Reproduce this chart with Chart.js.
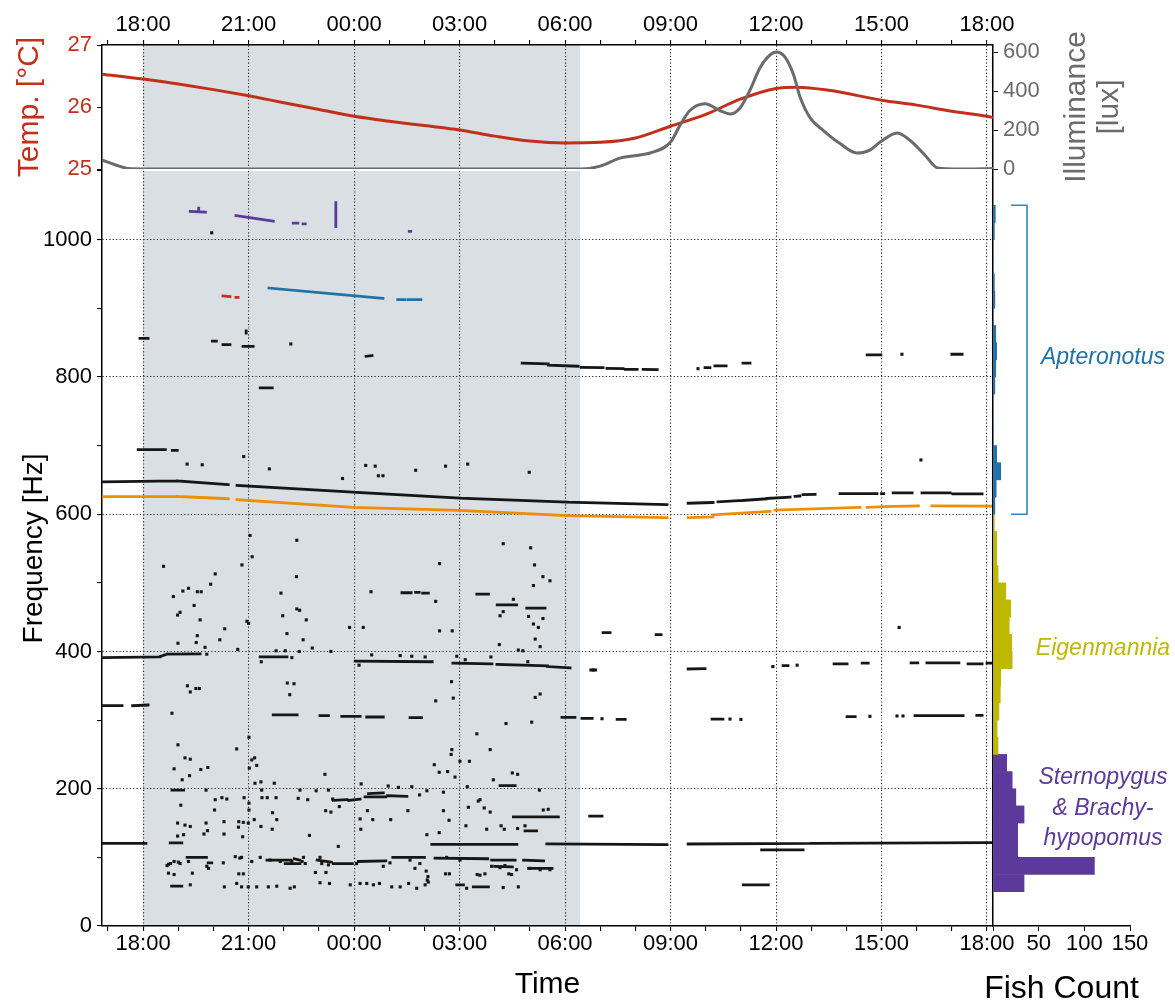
<!DOCTYPE html>
<html>
<head>
<meta charset="utf-8">
<title>Electric fish EOD frequencies over 24 h</title>
<script src="https://cdn.jsdelivr.net/npm/chart.js@4.4.1/dist/chart.umd.min.js"></script>
<style>
  html, body { margin: 0; background: #fff; }
  #fig { position: relative; width: 1175px; height: 1003px; }
  #fig canvas { position: absolute; left: 0; top: 0; }
</style>
</head>
<body>
<div id="fig">
  <canvas id="env" width="1175" height="1003"></canvas>
  <canvas id="freq" width="1175" height="1003"></canvas>
  <canvas id="hist" width="1175" height="1003"></canvas>
</div>
<script>
Chart.defaults.font.family = '"Liberation Sans", Arial, Helvetica, sans-serif';
Chart.defaults.color = '#000';
Chart.defaults.animation = false;
Chart.defaults.events = [];
Chart.defaults.plugins.legend.display = false;
Chart.defaults.plugins.tooltip.enabled = false;

// time is in hours after 18:00 of the first day
const T_MIN = -1.17, T_MAX = 24.17;
const NIGHT = [0, 12.43];

// water temperature
const tempHours = [-1.17, 0, 1, 2, 3, 4, 5, 6, 7, 8, 9, 10, 11, 12, 13, 14, 15, 16, 17, 18, 18.6, 19.5, 21, 22, 23, 24, 24.17];
const tempC = [26.53, 26.45, 26.37, 26.28, 26.18, 26.07, 25.96, 25.85, 25.77, 25.70, 25.63, 25.53, 25.45, 25.42, 25.43, 25.50, 25.69, 25.88, 26.13, 26.30, 26.32, 26.27, 26.11, 26.03, 25.93, 25.85, 25.83];

// illuminance
const luxHours = [-1.17, -0.8, -0.4, 0, 12.45, 13.0, 13.56, 14.13, 14.42, 15.0, 15.27, 15.55, 15.98, 16.4, 16.69, 16.97, 17.26, 17.54, 17.83, 18.0, 18.25, 18.5, 18.68, 18.97, 19.33, 19.8, 20.3, 20.67, 20.96, 21.44, 21.8, 22.23, 22.6, 23.2, 24.17];
const luxValues = [46, 22, 2, 0, 0, 15, 56, 72, 82, 138, 225, 300, 335, 300, 282, 312, 405, 518, 585, 600, 575, 482, 370, 262, 200, 133, 82, 97, 138, 185, 149, 72, 5, 0, 3];
const luxTicks = [0, 200, 400, 600];

// frequency tracks: [start h, start Hz, end h, end Hz]
const blackSegs = [
  // ~640 Hz
  [-1.17, 647, 0.97, 648.5], [0.97, 648.5, 2.42, 643],
  [2.67, 642, 5.97, 632], [5.97, 632, 9.01, 623.5], [9.01, 623.5, 12.06, 617.5], [12.06, 617.5, 14.9, 614],
  [15.5, 616, 16.21, 617], [16.35, 618, 17.06, 620], [17.06, 620, 17.74, 622.5], [17.74, 623, 18.4, 625],
  [18.54, 626, 18.68, 626.5], [18.77, 628.5, 19.11, 629], [19.82, 630, 20.87, 630], [21.0, 630, 21.06, 630],
  [21.33, 631, 21.87, 631], [22.15, 631, 22.95, 631], [23.03, 629.5, 23.86, 629.5],
  // ~815 Hz
  [10.78, 820, 11.52, 819], [11.52, 817, 12.37, 815.5], [12.46, 814, 13.08, 813.5], [13.19, 812.5, 13.65, 812],
  [13.71, 811, 14.05, 811], [14.22, 811, 14.62, 810.5], [15.98, 813.5, 16.12, 813.5], [16.26, 816, 16.58, 816],
  [17.06, 820, 17.26, 820], [20.59, 832, 20.98, 832], [23.0, 833, 23.29, 833],
  // short pieces 650-870 Hz
  [-0.09, 856, 0.14, 856], [1.97, 852, 2.08, 852], [2.27, 847, 2.47, 847], [2.84, 844.5, 3.13, 844.5],
  [2.93, 864, 2.93, 867], [6.34, 830, 6.51, 831], [3.33, 784, 3.67, 784],
  [-0.14, 694, 0.63, 694], [0.83, 693, 0.97, 693],
  // ~390 Hz
  [-1.17, 391, 0.48, 392], [0.5, 393, 0.68, 396], [0.68, 396, 1.62, 396.5], [3.33, 392, 4.09, 392],
  [6.03, 386, 8.22, 385], [8.81, 383, 9.92, 382], [10.06, 381, 11.5, 379], [11.5, 378, 12.14, 376],
  [12.73, 373, 12.87, 373], [15.5, 374.5, 15.98, 375], [18.2, 379.5, 18.34, 379.5], [19.65, 382, 20.02, 382],
  [20.45, 383, 20.62, 383], [21.84, 383.5, 22.03, 383.5], [22.29, 383.5, 23.2, 383.5], [23.46, 382, 23.86, 382],
  [24.0, 383, 24.17, 383],
  // 420-490 Hz pieces
  [7.36, 485.5, 7.62, 485.5], [7.75, 486, 7.85, 486], [7.95, 485, 8.11, 485], [9.49, 483.5, 9.82, 483.5],
  [10.07, 468, 10.62, 468], [10.91, 463, 11.43, 463], [13.08, 427.5, 13.28, 427.5], [14.59, 424.5, 14.73, 424.5],
  // ~310 Hz
  [-1.17, 321, -0.6, 321], [-0.3, 321, 0.14, 322], [3.7, 307.5, 4.38, 307.5], [5.03, 306.5, 5.27, 306.5],
  [5.65, 305.5, 6.17, 305.5], [6.36, 304.5, 6.83, 304.5], [7.59, 303.5, 7.92, 303.5], [11.91, 304, 12.28, 304],
  [12.48, 302.5, 12.77, 302.5], [13.48, 301, 13.71, 301], [16.18, 301.5, 16.49, 301.5], [20.02, 305, 20.25, 305],
  [21.95, 306.5, 23.32, 306.5], [23.71, 307, 23.86, 307],
  // 130-210 Hz pieces
  [0.82, 198, 1.15, 198], [5.41, 183, 5.8, 184], [5.85, 183, 6.17, 185], [6.31, 188, 6.9, 188], [6.95, 190, 7.5, 189],
  [6.41, 193, 6.83, 194], [10.15, 204.5, 10.58, 204.5], [10.53, 159, 11.81, 159], [10.86, 138.5, 11.19, 138.5],
  [12.7, 160, 13.05, 160],
  // ~120 Hz
  [-1.17, 120.5, 0.08, 120.5], [0.77, 121, 1.1, 121], [8.21, 119, 10.63, 119], [11.48, 119.5, 14.9, 118.5],
  [15.5, 119.5, 19.0, 120.3], [19.0, 120.3, 24.17, 121.5], [17.59, 110.8, 18.77, 110.8], [17.07, 60, 17.78, 60],
  // 80-100 Hz
  [1.25, 100, 1.8, 100], [1.85, 92, 1.95, 92], [3.52, 96, 4.2, 96], [4.3, 98, 4.45, 96], [4.95, 96, 5.35, 93],
  [5.41, 91, 5.95, 91], [6.12, 94, 6.9, 95], [7.1, 100, 8.0, 100], [8.3, 99, 9.8, 98], [9.91, 96, 10.58, 96],
  [10.82, 96, 11.39, 95], [10.0, 87, 10.5, 86], [10.96, 84, 11.63, 84], [4.04, 91, 4.46, 91],
  // ~58 Hz
  [0.81, 58, 1.1, 58], [8.92, 60, 9.11, 60], [9.39, 57, 9.82, 57]
];
const orangeSegs = [
  [-1.17, 625.5, 0.97, 626], [0.97, 626, 2.42, 622.5],
  [2.67, 621, 5.97, 610], [5.97, 610, 9.01, 605.5], [9.01, 605.5, 12.06, 598], [12.06, 598, 14.9, 595],
  [15.5, 595, 16.21, 596], [16.21, 599, 17.83, 604], [17.97, 606, 20.39, 610], [20.59, 610, 20.96, 610.5],
  [21.05, 611, 22.05, 612], [22.43, 612, 24.17, 611.7]
];
const blueSegs = [[3.58, 929.5, 6.82, 914.5], [7.24, 912.5, 7.44, 912.5], [7.53, 912.5, 7.9, 912.5]];
const purpleSegs = [
  [1.34, 1041, 1.77, 1040], [1.58, 1043, 1.58, 1046], [2.64, 1035, 3.7, 1027],
  [4.27, 1024, 4.4, 1024], [4.55, 1023, 4.61, 1023], [5.48, 1054, 5.48, 1019], [7.57, 1012, 7.61, 1012]
];
const redSegs = [[2.27, 918, 2.47, 917], [2.64, 916, 2.7, 916]];

// isolated detections: [h, Hz]
const blackDots = [
  [1.95, 1010], [4.2, 848], [1.25, 673], [1.68, 672], [15.78, 812], [21.58, 833], [22.12, 679], [10.98, 661],
  [17.91, 378], [18.6, 380], [13.05, 302], [16.69, 301.5], [17.0, 301], [20.67, 305.5], [21.44, 306], [21.61, 306],
  [21.5, 435], [12.8, 373],
  [0.58, 524], [0.86, 480], [0.98, 453], [1.05, 457], [0.99, 412], [1.13, 488], [1.29, 492], [1.45, 467],
  [1.54, 487], [1.65, 487], [1.62, 446], [1.54, 423], [1.51, 413], [1.76, 406], [1.81, 396], [1.92, 498],
  [2.05, 513], [2.18, 417], [2.32, 433], [2.81, 526], [2.86, 684], [2.69, 403], [3.04, 569], [3.1, 538],
  [2.95, 444], [3.0, 441], [1.26, 350], [1.34, 341], [1.5, 346], [1.6, 346], [0.82, 310], [3.59, 666],
  [3.92, 485], [3.97, 452], [4.09, 426], [4.37, 562], [4.36, 509], [4.37, 462], [4.45, 460], [4.64, 446],
  [4.55, 417], [4.81, 405], [3.78, 401], [4.04, 401], [4.44, 400], [5.34, 400], [3.36, 385], [4.23, 391],
  [4.1, 354], [4.29, 353], [4.17, 337], [5.67, 652], [5.87, 435], [6.26, 435], [6.33, 671], [6.6, 670],
  [6.69, 656], [6.82, 656], [6.48, 487], [6.14, 380], [6.5, 395], [7.31, 394], [7.64, 393], [8.02, 392],
  [7.75, 664], [8.32, 473], [8.43, 528], [8.43, 430], [8.79, 430], [8.6, 670], [9.23, 673], [8.32, 328],
  [8.77, 356], [8.82, 332], [8.92, 393], [9.16, 388], [9.89, 392], [10.15, 452], [10.24, 458], [10.24, 557],
  [10.53, 476], [10.13, 410], [10.67, 402], [10.8, 401], [10.94, 385], [11.02, 551], [11.13, 526], [11.1, 496],
  [11.37, 509], [11.57, 503], [10.96, 451], [11.1, 440], [11.24, 435], [11.37, 448], [11.15, 418], [11.29, 407],
  [11.15, 333], [11.29, 338],
  [0.99, 264], [0.88, 229], [1.11, 213], [1.19, 245], [1.34, 243], [1.32, 219], [1.64, 228], [1.84, 231],
  [1.07, 176], [1.79, 198], [0.98, 150], [1.19, 147], [1.34, 145], [0.98, 131], [1.15, 133], [1.79, 150],
  [1.83, 139], [1.73, 134], [2.03, 169], [2.05, 184], [2.24, 187], [2.38, 185], [2.3, 152], [2.3, 134],
  [2.66, 258], [2.87, 187], [2.72, 152], [2.85, 151], [2.99, 150], [2.71, 144], [2.83, 130], [3.01, 275],
  [3.02, 230], [3.09, 242], [3.17, 245], [3.23, 234], [3.01, 179], [3.01, 169], [3.18, 208], [3.35, 210],
  [3.37, 198], [3.16, 155], [3.35, 145], [3.38, 187], [3.53, 187], [3.78, 187], [3.68, 165], [3.8, 155],
  [3.67, 141], [3.73, 208], [4.46, 198], [4.68, 184], [4.92, 197], [4.41, 186], [5.17, 221], [5.19, 168],
  [5.34, 166], [5.27, 198], [5.39, 185], [5.58, 174], [4.73, 132], [5.55, 116], [6.2, 207], [6.17, 156],
  [6.19, 141], [6.38, 168], [6.53, 155], [6.97, 204], [7.26, 202], [7.64, 203], [7.04, 155], [7.53, 168],
  [7.86, 191], [8.07, 197], [8.28, 235], [8.42, 224], [8.66, 225], [8.54, 195], [8.54, 168], [8.42, 136],
  [8.7, 154], [8.78, 257], [8.76, 250], [8.87, 217], [9.01, 240], [9.28, 240], [9.22, 203], [9.25, 173],
  [9.18, 146], [9.49, 280], [9.53, 182], [9.58, 184], [9.7, 172], [9.87, 166], [9.77, 141], [9.87, 257],
  [9.96, 213], [10.5, 223], [10.65, 221], [10.32, 295], [11.05, 297], [10.18, 146], [10.27, 141], [10.65, 142],
  [10.86, 146], [11.38, 169], [11.52, 170], [11.27, 198], [8.07, 133],
  [0.72, 90], [0.88, 94], [1.05, 91], [1.29, 94], [1.81, 87], [1.86, 84], [2.28, 92], [2.8, 100], [2.85, 76],
  [3.09, 94], [3.33, 100], [3.61, 96], [3.9, 94], [4.23, 94], [4.56, 100], [4.61, 91], [5.03, 100], [5.08, 91],
  [5.27, 89], [6.07, 91], [6.83, 87], [7.02, 92], [7.59, 96], [7.73, 84], [7.87, 91], [8.63, 100], [8.71, 76],
  [9.01, 96], [9.58, 74], [9.72, 76], [9.91, 87], [10.15, 85], [10.29, 88], [10.48, 75], [10.62, 82], [11.0, 84],
  [11.29, 82], [11.57, 82], [0.68, 88], [0.78, 91], [1.0, 93], [2.62, 101], [2.75, 99], [4.52, 94],
  [0.72, 77], [0.88, 75], [1.4, 77], [2.72, 76], [4.9, 78], [5.2, 78], [8.6, 76], [9.5, 75], [10.4, 76],
  [8.05, 80], [8.1, 72], [8.08, 67],
  [1.34, 60], [2.31, 57], [2.66, 62], [2.8, 57], [2.99, 57], [3.23, 57], [3.56, 57], [3.8, 58], [4.18, 55],
  [4.3, 57], [5.03, 63], [5.3, 62], [5.89, 60], [6.17, 62], [6.36, 62], [6.55, 60], [6.72, 62], [7.07, 57],
  [7.31, 57], [7.55, 62], [7.78, 55], [8.02, 60], [8.11, 64], [9.2, 55], [10.24, 56], [10.67, 57]
];

// fish count histogram, 25 Hz bins, listed from the lowest bin upward
const HIST_BIN = 25;
const sternoFrom = 50, sternoCounts = [34, 111, 27, 27, 34, 25, 21, 15];
const eigenFrom = 250, eigenCounts = [5.5, 4.5, 6.5, 8, 8.4, 21, 20.5, 17.8, 19.4, 14, 5.6, 4, 4, 1.5];
const aptFrom = 600, aptCounts = [2, 3.5, 8.5, 4, 0, 0, 0, 2, 3, 4, 3, 0, 2, 1.5, 0, 0, 1.5, 2.5];

const RED = '#c22f1b', GRAY = '#6b6b6b', BLACK = '#161616', ORANGE = '#f18d00';
const BLUE = '#2172a7', PURPLE = '#5c3a9b', TRACK_RED = '#c7301c', OLIVE = '#beb800', SHADE = '#d9dfe3';
const DOTTED = [1.2, 2.2];
const GRID = '#222';
const FONT = '"Liberation Sans", Arial, Helvetica, sans-serif';

const clock = v => String(((Math.round(v) + 18) % 24 + 24) % 24).padStart(2, '0') + ':00';
const isMajor = v => Math.abs(v % 3) < 1e-6;

function timeAxis(position, height, pad) {
  return {
    type: 'linear', position, min: T_MIN, max: T_MAX,
    afterFit: s => { s.height = height; },
    ticks: {
      stepSize: 1, autoSkip: false, includeBounds: false, maxRotation: 0,
      font: { size: 22 }, padding: pad, callback: v => isMajor(v) ? clock(v) : ''
    },
    grid: {
      color: c => c.tick && isMajor(c.tick.value) ? GRID : 'rgba(0,0,0,0)',
      tickColor: '#000', tickLength: 5, lineWidth: 1.1
    },
    border: { color: '#000', width: 1.5, dash: DOTTED }
  };
}

const nightShade = {
  id: 'nightShade',
  beforeDraw(chart) {
    const { ctx, chartArea: a, scales: { x } } = chart;
    const x0 = x.getPixelForValue(NIGHT[0]), x1 = x.getPixelForValue(NIGHT[1]);
    ctx.save();
    ctx.fillStyle = SHADE;
    ctx.fillRect(x0, a.top, x1 - x0, a.bottom - a.top);
    ctx.restore();
  }
};

// right axis title reads bottom-to-top, like the left one
const luxTitle = {
  id: 'luxTitle',
  afterDraw(chart) {
    const { ctx, chartArea: a } = chart;
    const cy = (a.top + a.bottom) / 2;
    ctx.save();
    ctx.fillStyle = GRAY;
    ctx.font = '30px ' + FONT;
    ctx.textAlign = 'center';
    ctx.textBaseline = 'middle';
    [['Illuminance', 84], ['[lux]', 117]].forEach(([s, dx]) => {
      ctx.save();
      ctx.translate(a.right + dx, cy);
      ctx.rotate(-Math.PI / 2);
      ctx.fillText(s, 0, 0);
      ctx.restore();
    });
    ctx.restore();
  }
};

// genus labels, Apteronotus bracket and the axis title (wider than the narrow axis)
const histNotes = {
  id: 'histNotes',
  afterDraw(chart) {
    const { ctx, chartArea: a, scales: { y } } = chart;
    const yTop = y.getPixelForValue(1050), yBot = y.getPixelForValue(600);
    const bx = a.left + 34;
    ctx.save();
    ctx.strokeStyle = '#3b84b8';
    ctx.lineWidth = 1.6;
    ctx.beginPath();
    ctx.moveTo(bx - 16, yTop); ctx.lineTo(bx, yTop); ctx.lineTo(bx, yBot); ctx.lineTo(bx - 16, yBot);
    ctx.stroke();
    ctx.font = 'italic 23px ' + FONT;
    ctx.textAlign = 'center';
    ctx.textBaseline = 'middle';
    const cx = a.left + 110;
    ctx.fillStyle = BLUE;
    ctx.fillText('Apteronotus', cx, y.getPixelForValue(828));
    ctx.fillStyle = OLIVE;
    ctx.fillText('Eigenmannia', cx, y.getPixelForValue(404));
    ctx.fillStyle = PURPLE;
    ['Sternopygus', '& Brachy-', 'hypopomus'].forEach((s, i) => ctx.fillText(s, cx, y.getPixelForValue(216 - 44.5 * i)));
    ctx.font = '32px ' + FONT;
    ctx.fillStyle = '#000';
    ctx.textBaseline = 'alphabetic';
    ctx.fillText('Fish Count', (a.left + a.right) / 2, 998);
    ctx.restore();
  }
};

// ---- temperature / illuminance panel ----
new Chart('env', {
  type: 'scatter',
  data: {
    datasets: [
      { data: luxHours.map((h, i) => ({ x: h, y: luxValues[i] })), yAxisID: 'yL', showLine: true,
        borderColor: GRAY, borderWidth: 3, pointRadius: 0, cubicInterpolationMode: 'monotone' },
      { data: tempHours.map((h, i) => ({ x: h, y: tempC[i] })), yAxisID: 'yT', showLine: true,
        borderColor: RED, borderWidth: 3, pointRadius: 0, cubicInterpolationMode: 'monotone' }
    ]
  },
  options: {
    responsive: false,
    layout: { padding: { top: 0, left: 0, right: 0, bottom: 834 } },
    scales: {
      x: timeAxis('top', 45, 2),
      yT: {
        position: 'left', min: 25, max: 27,
        afterFit: s => { s.width = 102; },
        ticks: { stepSize: 1, color: RED, font: { size: 22 }, padding: 5 },
        grid: { drawOnChartArea: false, tickColor: '#000', tickLength: 5 },
        border: { color: '#000', width: 1.5 },
        title: { display: true, text: 'Temp. [°C]', color: RED, font: { size: 30 }, padding: { top: 12 } }
      },
      yL: {
        position: 'right', min: 0, max: 636,
        afterFit: s => { s.width = 182; },
        afterBuildTicks: s => { s.ticks = luxTicks.map(value => ({ value })); },
        ticks: { color: GRAY, font: { size: 22 }, padding: 5 },
        grid: { drawOnChartArea: false, tickColor: '#000', tickLength: 5 },
        border: { color: '#000', width: 1.5 }
      }
    }
  },
  plugins: [nightShade, luxTitle]
});

// ---- frequency traces ----
function segData(segs) {
  const pts = [];
  segs.forEach(([h0, f0, h1, f1]) => pts.push({ x: h0, y: f0 }, { x: h1, y: f1 }, { x: h1, y: null }));
  return pts;
}
const track = (segs, color) => ({
  data: segData(segs), showLine: true, spanGaps: false, borderColor: color,
  borderWidth: 2.8, borderCapStyle: 'square', pointRadius: 0
});

new Chart('freq', {
  type: 'scatter',
  data: {
    datasets: [
      track(orangeSegs, ORANGE),
      track(blackSegs, BLACK),
      track(blueSegs, BLUE),
      track(purpleSegs, PURPLE),
      track(redSegs, TRACK_RED),
      { data: blackDots.map(([x, y]) => ({ x, y })), pointStyle: 'rect', pointRadius: 2.2,
        pointBackgroundColor: BLACK, pointBorderWidth: 0 }
    ]
  },
  options: {
    responsive: false,
    layout: { padding: { top: 171, left: 0, right: 182, bottom: 0 } },
    scales: {
      x: Object.assign(timeAxis('bottom', 77, 0), {
        title: { display: true, text: 'Time', font: { size: 30 }, padding: { top: 0, bottom: 0 } }
      }),
      y: {
        min: 0, max: 1100,
        afterFit: s => { s.width = 102; },
        ticks: { stepSize: 100, autoSkip: false, font: { size: 22 }, padding: 5, callback: v => v % 200 === 0 ? v : '' },
        grid: {
          color: c => c.tick && c.tick.value % 200 === 0 && c.tick.value > 0 ? GRID : 'rgba(0,0,0,0)',
          tickColor: '#000', tickLength: 5, lineWidth: 1.1
        },
        border: { color: '#000', width: 1.5, dash: DOTTED },
        title: { display: true, text: 'Frequency [Hz]', font: { size: 28 }, padding: { top: 17 } }
      }
    }
  },
  plugins: [nightShade]
});

// ---- fish count histogram ----
const binBars = (from, counts, color) => counts.map((n, i) => ({ x: n, y: from + HIST_BIN * (i + 0.5), color }));
const bars = [
  ...binBars(sternoFrom, sternoCounts, PURPLE),
  ...binBars(eigenFrom, eigenCounts, OLIVE),
  ...binBars(aptFrom, aptCounts, BLUE)
];

new Chart('hist', {
  type: 'bar',
  data: {
    datasets: [{
      data: bars.map(b => ({ x: b.x, y: b.y })),
      backgroundColor: bars.map(b => b.color),
      borderWidth: 0, barPercentage: 1, categoryPercentage: 1
    }]
  },
  options: {
    indexAxis: 'y',
    responsive: false,
    layout: { padding: { top: 171, left: 993, right: 45, bottom: 0 } },
    scales: {
      y: {
        type: 'linear', min: 0, max: 1100, offset: false,
        afterFit: s => { s.width = 0; },
        ticks: { display: false },
        grid: { display: false },
        border: { color: '#000', width: 1.5 }
      },
      x: {
        type: 'linear', min: 0, max: 150,
        afterFit: s => { s.height = 77; },
        ticks: { stepSize: 50, font: { size: 22 }, padding: 0, callback: v => v === 0 ? '' : v },
        grid: { drawOnChartArea: false, tickColor: '#000', tickLength: 5 },
        border: { color: '#000', width: 1.5 }
      }
    }
  },
  plugins: [histNotes]
});
</script>
</body>
</html>
